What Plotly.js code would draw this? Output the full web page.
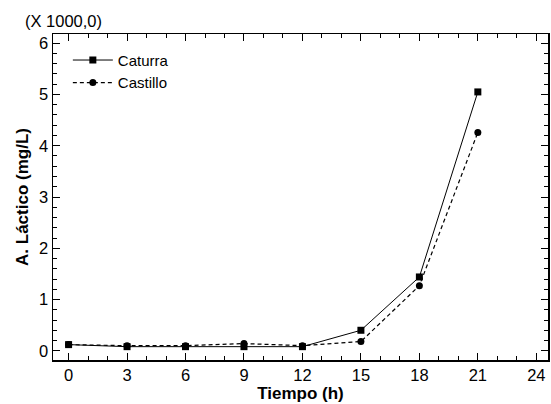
<!DOCTYPE html>
<html><head><meta charset="utf-8">
<script src="https://cdn.plot.ly/plotly-3.0.1.min.js"></script>
<style>body{margin:0;background:#fff}#c{width:551px;height:404px}</style>
</head><body><div id="c"></div>
<script>
const tiempo = [0, 3, 6, 9, 12, 15, 18, 21];
const caturra = [0.12, 0.08, 0.08, 0.08, 0.08, 0.40, 1.44, 5.05];
const castillo = [0.12, 0.10, 0.10, 0.14, 0.10, 0.18, 1.27, 4.26];
const xTicks = [0, 3, 6, 9, 12, 15, 18, 21, 24];
const yTicks = [0, 1, 2, 3, 4, 5, 6];

const font = {family: 'Liberation Sans, Arial, sans-serif', color: '#000'};
const traces = [
  {x: tiempo, y: caturra, name: 'Caturra', mode: 'lines+markers',
   line: {color: '#000', width: 1}, marker: {symbol: 'square', size: 7, color: '#000'}},
  {x: tiempo, y: castillo, name: 'Castillo', mode: 'lines+markers',
   line: {color: '#000', width: 1.2, dash: '4px,3px'}, marker: {symbol: 'circle', size: 7, color: '#000'}}
];
const axisCommon = {showgrid: false, zeroline: false, showline: true, linecolor: '#000', linewidth: 1.5,
  mirror: 'allticks', ticks: 'inside', ticklen: 7, tickwidth: 1, tickcolor: '#000',
  tickfont: Object.assign({size: 16.5}, font)};
const layout = {
  width: 551, height: 404,
  margin: {l: 53, r: 3, t: 34, b: 44},
  paper_bgcolor: '#fff', plot_bgcolor: '#fff',
  font: font,
  showlegend: true,
  legend: {x: 0.03, y: 0.97, xanchor: 'left', yanchor: 'top', bgcolor: 'rgba(0,0,0,0)',
    font: Object.assign({size: 15}, font), tracegroupgap: 0, itemwidth: 40},
  xaxis: Object.assign({}, axisCommon, {range: [-0.8, 24.6], tickvals: xTicks, ticktext: xTicks.map(String),
    minor: {dtick: 1, ticks: 'inside', ticklen: 4, tickcolor: '#000', tickwidth: 1},
    title: {text: '<b>Tiempo (h)</b>', font: Object.assign({size: 17}, font), standoff: 0}}),
  yaxis: Object.assign({}, axisCommon, {range: [-0.18, 6.18], tickvals: yTicks, ticktext: yTicks.map(String),
    minor: {dtick: 0.2, ticks: 'inside', ticklen: 4, tickcolor: '#000', tickwidth: 1},
    title: {text: '<b>A. Láctico (mg/L)</b>', font: Object.assign({size: 17}, font), standoff: 6}}),
  annotations: [{text: '(X 1000,0)', xref: 'paper', yref: 'paper', x: -0.06, y: 1.005,
    xanchor: 'left', yanchor: 'bottom', showarrow: false, font: Object.assign({size: 16.5}, font)}]
};
Plotly.newPlot('c', traces, layout, {displayModeBar: false, staticPlot: true});
</script></body></html>
